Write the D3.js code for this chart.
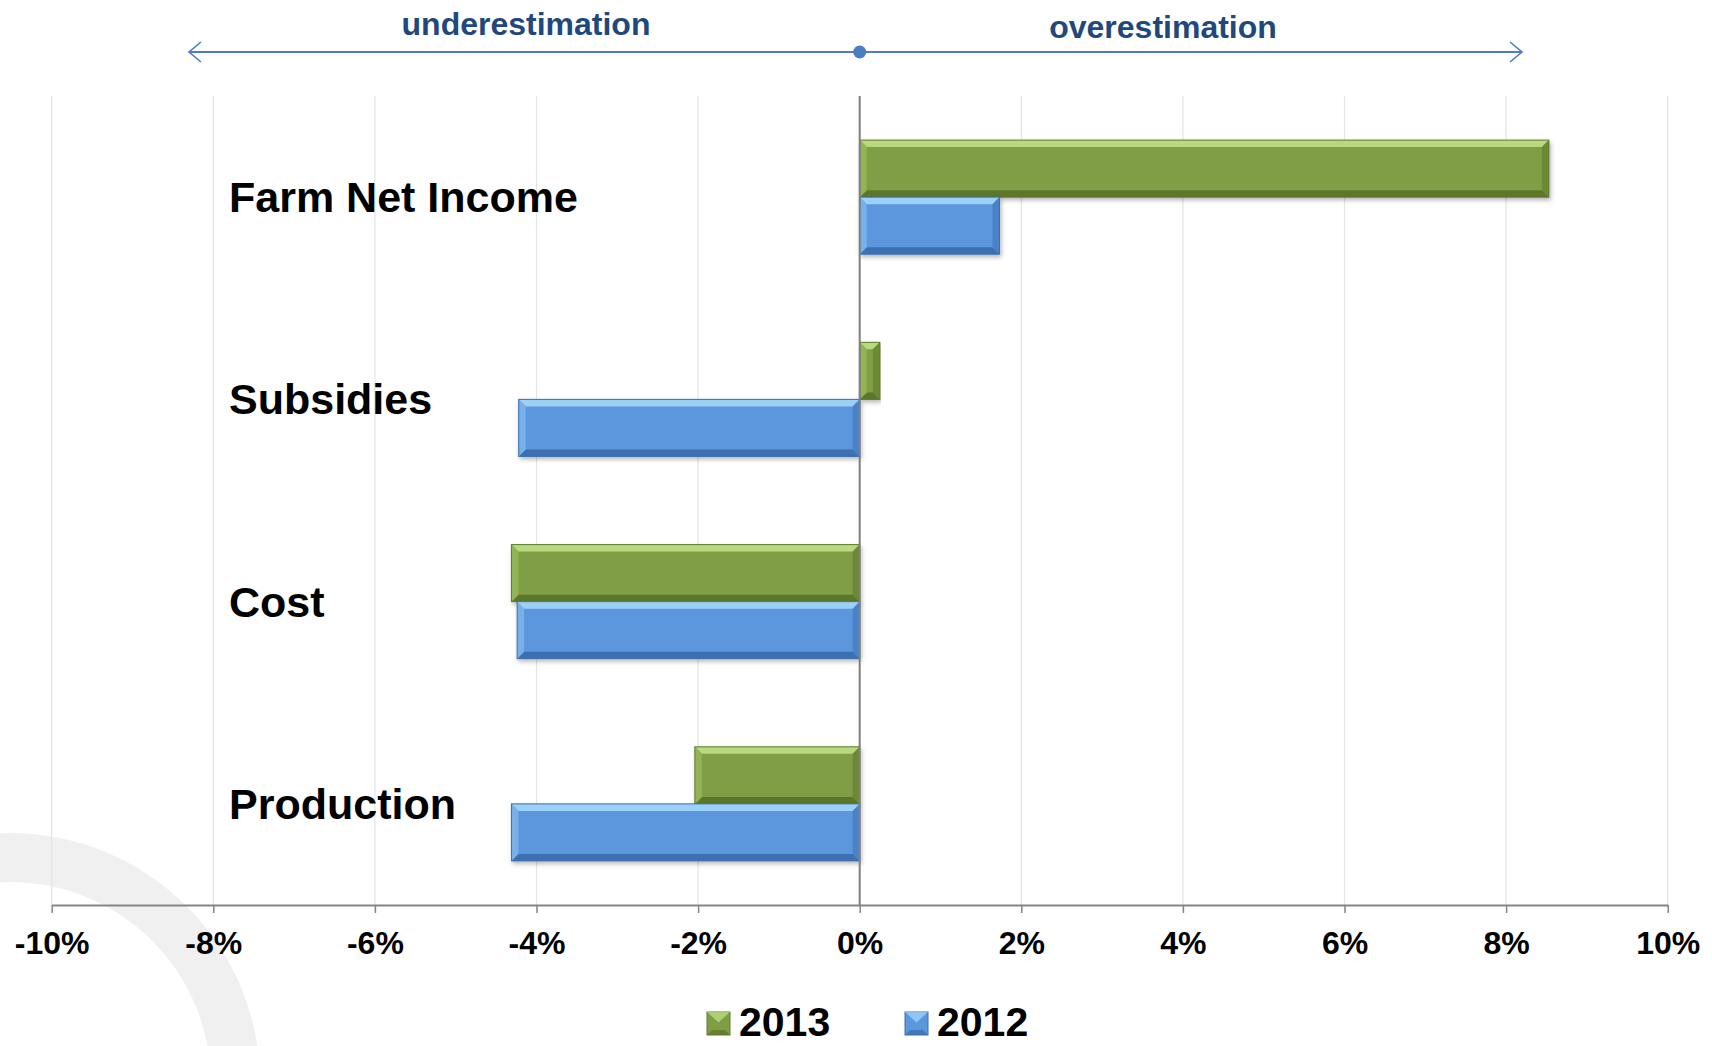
<!DOCTYPE html>
<html>
<head>
<meta charset="utf-8">
<script src="https://cdn.jsdelivr.net/npm/d3@7"></script>
<style>
  html, body { margin: 0; padding: 0; background: #ffffff; overflow: hidden; }
  svg { display: block; font-family: "Liberation Sans", Arial, sans-serif; }
</style>
</head>
<body>
<svg id="chart" width="1712" height="1046"></svg>
<script>
// ---- data ----
const categories = ["Farm Net Income", "Subsidies", "Cost", "Production"];
const seriesNames = ["2013", "2012"];
const values2013 = [0.0853, 0.0025, -0.0431, -0.0204];
const values2012 = [0.0173, -0.0422, -0.0424, -0.0431];
const tickValues = [-0.10, -0.08, -0.06, -0.04, -0.02, 0, 0.02, 0.04, 0.06, 0.08, 0.10];
const tickLabels = ["-10%", "-8%", "-6%", "-4%", "-2%", "0%", "2%", "4%", "6%", "8%", "10%"];
const annotations = ["underestimation", "overestimation"];

const seriesValues = { "2013": values2013, "2012": values2012 };
const palette = {
  "2013": { base: "#7f9e44", top: "#b9d97f", bottom: "#5c772c", left: "#93b455", right: "#6c8a36", stroke: "#5f7a30" },
  "2012": { base: "#5b97dd", top: "#9dd0f7", bottom: "#3c6fb0", left: "#78b0ea", right: "#4a82c6", stroke: "#3e70ad" }
};

const svg = d3.select("#chart");
const plot = { left: 51.7, right: 1667.7, top: 96, bottom: 905 };

const x = d3.scaleLinear().domain([-0.10, 0.10]).range([plot.left, plot.right]);
const y0 = d3.scaleBand().domain(categories).range([plot.top, plot.bottom])
  .paddingInner(0.436).paddingOuter(0.218);
const y1 = d3.scaleBand().domain(seriesNames).range([0, y0.bandwidth()]).padding(0);

// defs
const defs = svg.append("defs");
const f = defs.append("filter").attr("id", "shadow").attr("x", "-5%").attr("y", "-20%").attr("width", "110%").attr("height", "150%");
f.append("feDropShadow").attr("dx", 1.5).attr("dy", 2.5).attr("stdDeviation", 2).attr("flood-color", "#000").attr("flood-opacity", 0.28);

// background ring decoration
const ring = d3.arc().innerRadius(201).outerRadius(250).startAngle(0).endAngle(2 * Math.PI);
svg.append("path").attr("d", ring()).attr("transform", "translate(10,1083)").attr("fill", "#f0f0f0");

// gridlines
svg.append("g").selectAll("line").data(tickValues.filter(v => v !== 0)).join("line")
  .attr("x1", d => x(d)).attr("x2", d => x(d))
  .attr("y1", plot.top).attr("y2", plot.bottom)
  .attr("stroke", "#e4e4e4").attr("stroke-width", 1.2);

// x axis
const axis = d3.axisBottom(x).tickValues(tickValues)
  .tickFormat((d, i) => tickLabels[i]).tickSize(8).tickSizeOuter(0);
const gx = svg.append("g").attr("transform", `translate(0,${plot.bottom})`).call(axis);
gx.select(".domain").attr("stroke", "#858585").attr("stroke-width", 2);
gx.selectAll(".tick line").attr("stroke", "#858585").attr("stroke-width", 1.5);
gx.selectAll(".tick text").attr("fill", "#000").attr("font-size", 32).attr("font-weight", "bold")
  .attr("font-family", "'Liberation Sans', Arial, sans-serif").attr("y", 26).attr("dy", "0.71em");

// category labels
svg.append("g").selectAll("text").data(categories).join("text")
  .attr("x", 229).attr("y", d => y0(d) + y0.bandwidth() / 2 + 15)
  .attr("font-size", 43).attr("font-weight", "bold").attr("fill", "#000")
  .text(d => d);

// bars with bevel
const bevel = 7;
const barsData = [];
categories.forEach((c, i) => {
  seriesNames.forEach(s => {
    barsData.push({ cat: c, series: s, value: seriesValues[s][i] });
  });
});

const barG = svg.append("g").selectAll("g.bar").data(barsData).join("g").attr("class", "bar")
  .attr("filter", "url(#shadow)");

barG.each(function(d) {
  const g = d3.select(this);
  const xa = Math.min(x(0), x(d.value)), xb = Math.max(x(0), x(d.value));
  const ya = y0(d.cat) + y1(d.series), yb = ya + y1.bandwidth();
  const p = palette[d.series];
  const b = Math.min(bevel, (xb - xa) / 2);
  g.append("rect").attr("x", xa).attr("y", ya).attr("width", xb - xa).attr("height", yb - ya).attr("fill", p.base);
  const poly = pts => pts.map(q => q.join(",")).join(" ");
  g.append("polygon").attr("points", poly([[xa, ya], [xb, ya], [xb - b, ya + b], [xa + b, ya + b]])).attr("fill", p.top);
  g.append("polygon").attr("points", poly([[xa, yb], [xb, yb], [xb - b, yb - b], [xa + b, yb - b]])).attr("fill", p.bottom);
  g.append("polygon").attr("points", poly([[xa, ya], [xa + b, ya + b], [xa + b, yb - b], [xa, yb]])).attr("fill", p.left);
  g.append("polygon").attr("points", poly([[xb, ya], [xb - b, ya + b], [xb - b, yb - b], [xb, yb]])).attr("fill", p.right);
  g.append("rect").attr("x", xa).attr("y", ya).attr("width", xb - xa).attr("height", yb - ya)
    .attr("fill", "none").attr("stroke", p.stroke).attr("stroke-width", 1);
});

// zero line
svg.append("line").attr("x1", x(0)).attr("x2", x(0)).attr("y1", plot.top).attr("y2", plot.bottom)
  .attr("stroke", "#7f7f7f").attr("stroke-width", 2);

// top annotation arrow
const arrowY = 52;
const ann = svg.append("g");
ann.append("line").attr("x1", 189).attr("x2", 1522).attr("y1", arrowY).attr("y2", arrowY)
  .attr("stroke", "#4a7ebf").attr("stroke-width", 2);
ann.append("polyline").attr("points", `201,${arrowY - 10} 189,${arrowY} 201,${arrowY + 10}`)
  .attr("fill", "none").attr("stroke", "#4a7ebf").attr("stroke-width", 1.6);
ann.append("polyline").attr("points", `1510,${arrowY - 10} 1522,${arrowY} 1510,${arrowY + 10}`)
  .attr("fill", "none").attr("stroke", "#4a7ebf").attr("stroke-width", 1.6);
ann.append("circle").attr("cx", x(0)).attr("cy", arrowY).attr("r", 6.5).attr("fill", "#4a7ebf");
ann.append("text").attr("x", 526).attr("y", 35).attr("text-anchor", "middle")
  .attr("font-size", 32).attr("font-weight", "bold").attr("fill", "#1f497d").text(annotations[0]);
ann.append("text").attr("x", 1163).attr("y", 38).attr("text-anchor", "middle")
  .attr("font-size", 32).attr("font-weight", "bold").attr("fill", "#1f497d").text(annotations[1]);

// legend
const legendX = [707, 905];
const lg = svg.append("g").selectAll("g").data(seriesNames).join("g")
  .attr("transform", (d, i) => `translate(${legendX[i]},1012)`);
lg.each(function(s) {
  const g = d3.select(this);
  const p = palette[s];
  const sz = 23, b = 5;
  g.append("rect").attr("width", sz).attr("height", sz).attr("fill", p.base).attr("stroke", p.stroke);
  g.append("polygon").attr("points", `0,0 ${sz},0 ${sz / 2},${sz / 2 - 1}`).attr("fill", p.top).attr("opacity", 0.8);
  g.append("polygon").attr("points", `0,${sz} ${sz},${sz} ${sz - b},${sz - b} ${b},${sz - b}`).attr("fill", p.bottom).attr("opacity", 0.8);
  g.append("text").attr("x", 32).attr("y", 24).attr("font-size", 41).attr("font-weight", "bold")
    .attr("fill", "#000").text(s);
});
</script>
</body>
</html>
